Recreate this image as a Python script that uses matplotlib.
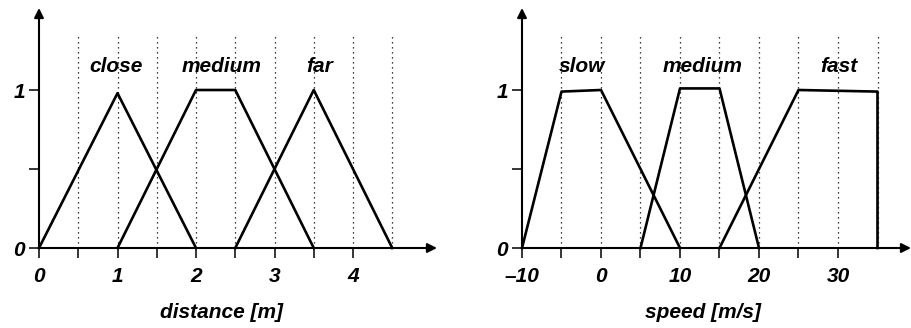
import matplotlib
matplotlib.use('Agg')
import matplotlib.pyplot as plt
from matplotlib.ticker import FixedLocator

plt.rcParams['font.family'] = ['Liberation Sans', 'DejaVu Sans']

# ── Data ──────────────────────────────────────────────────────────────────────
dist_close_x = [0, 1, 2]
dist_close_y = [0, 0.98, 0]
dist_medium_x = [1, 2, 2.5, 3.5]
dist_medium_y = [0, 1.0, 1.0, 0]
dist_far_x = [2.5, 3.5, 4.5]
dist_far_y = [0, 1.0, 0]
dist_names = ['close', 'medium', 'far']
dist_grid = [0.5, 1, 1.5, 2, 2.5, 3, 3.5, 4, 4.5]
dist_ticks = [0, 1, 2, 3, 4]
dist_minor = [0.5, 1.5, 2.5, 3.5]

speed_slow_x = [-10, -5, 0, 10]
speed_slow_y = [0, 0.99, 1.0, 0]
speed_medium_x = [5, 10, 15, 20]
speed_medium_y = [0, 1.01, 1.01, 0]
speed_fast_x = [15, 25, 35, 35]
speed_fast_y = [0, 1.0, 0.99, 0]
speed_names = ['slow', 'medium', 'fast']
speed_grid = [-5, 0, 5, 10, 15, 20, 25, 30, 35]
speed_ticks = [-10, 0, 10, 20, 30]
speed_minor = [-5, 5, 15, 25]

# ── Figure ────────────────────────────────────────────────────────────────────
W, H = 912, 328
fig = plt.figure(figsize=(W / 100, H / 100), dpi=100)
FONT = dict(fontsize=15, fontweight='bold', fontstyle='italic')
LW = 1.9


def make_axes(px_left, px_right, x0, px_per_unit):
    ax = fig.add_axes([px_left / W, (H - 248) / H,
                       (px_right - px_left) / W, (248 - 8) / H])
    ax.set_xlim(x0, x0 + (px_right - px_left) / px_per_unit)
    ax.set_ylim(0, 240 / 158)
    for s in ax.spines.values():
        s.set_visible(False)
    ax.set_facecolor('none')
    # axis arrows
    ax.annotate('', xy=(1, 0), xytext=(0, 0), xycoords='axes fraction',
                arrowprops=dict(arrowstyle='-|>', color='black', lw=1.5,
                                mutation_scale=14, shrinkA=0, shrinkB=0))
    ax.annotate('', xy=(0, 1), xytext=(0, 0), xycoords='axes fraction',
                arrowprops=dict(arrowstyle='-|>', color='black', lw=1.5,
                                mutation_scale=14, shrinkA=0, shrinkB=0))
    ax.yaxis.set_minor_locator(FixedLocator([0.5]))
    ax.tick_params(axis='x', which='both', direction='out', length=7, width=1.1,
                   top=False, pad=7)
    ax.tick_params(axis='y', which='both', direction='out', length=7, width=1.1,
                   right=False, pad=3)
    return ax


def style_labels(ax, xticks, minor):
    ax.set_xticks(xticks)
    ax.set_xticklabels([f'{t:g}'.replace('-', '\u2013') for t in xticks], **FONT)
    ax.xaxis.set_minor_locator(FixedLocator(minor))
    ax.set_yticks([0, 1])
    ax.set_yticklabels(['0', '1'], **FONT)


# ── Left: distance ────────────────────────────────────────────────────────────
ax1 = make_axes(39, 437, 0, 78.5)
style_labels(ax1, dist_ticks, dist_minor)
ax1.vlines(dist_grid, 0, 1.354, colors='black', linestyles=(0, (1, 3)), lw=0.9)
for xs, ys in [(dist_close_x, dist_close_y), (dist_medium_x, dist_medium_y),
               (dist_far_x, dist_far_y)]:
    ax1.plot(xs, ys, color='black', lw=LW, clip_on=False, zorder=5)
for name, xc in zip(dist_names, [0.98, 2.32, 3.58]):
    ax1.text(xc, 1.146, name, ha='center', va='center', **FONT)

# ── Right: speed ──────────────────────────────────────────────────────────────
ax2 = make_axes(522, 911, -10, 7.9)
style_labels(ax2, speed_ticks, speed_minor)
ax2.vlines(speed_grid, 0, 1.354, colors='black', linestyles=(0, (1, 3)), lw=0.9)
for xs, ys in [(speed_slow_x, speed_slow_y), (speed_medium_x, speed_medium_y),
               (speed_fast_x, speed_fast_y)]:
    ax2.plot(xs, ys, color='black', lw=LW, clip_on=False, zorder=5)
for name, xc in zip(speed_names, [-2.4, 12.9, 30.1]):
    ax2.text(xc, 1.146, name, ha='center', va='center', **FONT)

# ── Axis titles ───────────────────────────────────────────────────────────────
fig.text(222 / W, 1 - 312 / H, 'distance [m]', ha='center', va='center', **FONT)
fig.text(703 / W, 1 - 312 / H, 'speed [m/s]', ha='center', va='center', **FONT)

fig.savefig('out.png', dpi=100, facecolor='white')
